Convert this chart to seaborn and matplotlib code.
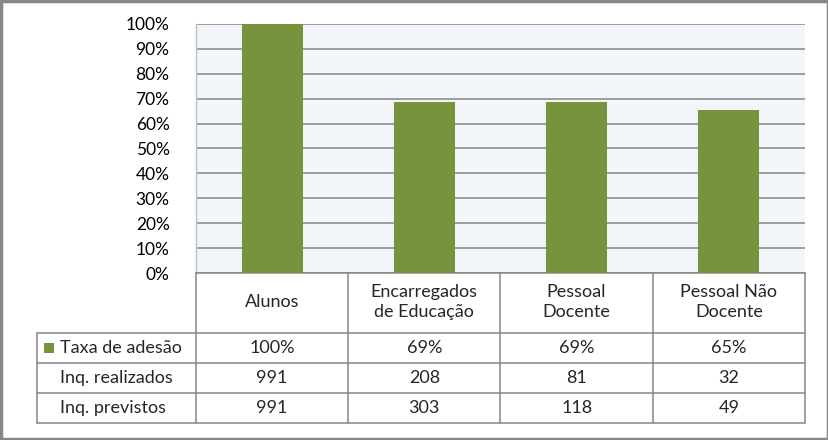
import matplotlib
matplotlib.use("Agg")
import matplotlib.pyplot as plt
import matplotlib.transforms as mtransforms
from matplotlib.patches import Rectangle
import seaborn as sns
import pandas as pd

categories = ["Alunos", "Encarregados\nde Educação", "Pessoal\nDocente", "Pessoal Não\nDocente"]
taxa_labels = ["100%", "69%", "69%", "65%"]
taxa = [1.00, 0.686, 0.686, 0.653]
realizados = [991, 208, 81, 32]
previstos = [991, 303, 118, 49]
row_names = ["Taxa de adesão", "Inq. realizados", "Inq. previstos"]
yticks = [0, 0.1, 0.2, 0.3, 0.4, 0.5, 0.6, 0.7, 0.8, 0.9, 1.0]

sns.set_style("white")
plt.rcParams["font.family"] = ["Lato", "DejaVu Sans"]

W, H = 829, 440
fig = plt.figure(figsize=(W / 100, H / 100), dpi=100)
fig.patch.set_facecolor("white")

def fx(px):
    return px / W

def fy(py):
    return 1 - py / H

left, right, top, bottom = 196, 805, 24, 273
ax = fig.add_axes([fx(left), fy(bottom), fx(right - left), fy(top) - fy(bottom)])

df = pd.DataFrame({"cat": categories, "val": taxa})
green = "#77933C"
sns.barplot(data=df, x="cat", y="val", color=green, width=0.4, saturation=1,
            linewidth=0, ax=ax, zorder=3)
ax.set_xlim(-0.5, 3.5)
ax.set_ylim(0, 1.0)
ax.set_facecolor("#F2F5FA")
ax.set_yticks(yticks)
ax.set_yticklabels([f"{int(round(v * 100))}%" for v in yticks], fontsize=12.5, color="#000000")
ax.tick_params(axis="y", length=0, pad=19)
ax.set_xticks([])
ax.set_xlabel("")
ax.set_ylabel("")
ax.grid(axis="y", color="#868686", linewidth=1.1, zorder=1)
ax.set_axisbelow(True)
for s in ["top", "right"]:
    ax.spines[s].set_visible(False)
ax.spines["left"].set_color("#BFBFBF")
ax.spines["left"].set_linewidth(1)
ax.spines["bottom"].set_color("#868686")
ax.spines["bottom"].set_linewidth(1.1)

# Data table drawn below axis, aligned to category positions
tr = mtransforms.blended_transform_factory(ax.transData, fig.transFigure)
lc = "#868686"
lw = 1.1
row_y = [333, 363, 393, 423]
for b in [-0.5, 0.5, 1.5, 2.5, 3.5]:
    fig.add_artist(plt.Line2D([b, b], [fy(273), fy(423)], transform=tr, color=lc, lw=lw))
fig.add_artist(plt.Line2D([fx(37), fx(37)], [fy(333), fy(423)], transform=fig.transFigure, color=lc, lw=lw))
for ry in row_y:
    fig.add_artist(plt.Line2D([fx(37), fx(805)], [fy(ry), fy(ry)], transform=fig.transFigure, color=lc, lw=lw))

fs = 13
for i, c in enumerate(categories):
    fig.text(i, fy(302), c, transform=tr, ha="center", va="center", fontsize=fs,
             linespacing=1.35)

rows = [taxa_labels, [str(v) for v in realizados], [str(v) for v in previstos]]
for r, vals in enumerate(rows):
    cy = fy((row_y[r] + row_y[r + 1]) / 2)
    for i, v in enumerate(vals):
        fig.text(i, cy, v, transform=tr, ha="center", va="center", fontsize=fs)
    fig.text(fx(60), cy, row_names[r], ha="left", va="center", fontsize=fs)

# legend key
fig.add_artist(Rectangle((fx(44), fy(353)), fx(10), fy(343) - fy(353),
                         transform=fig.transFigure, facecolor=green, edgecolor="none"))

# outer frame
fig.add_artist(Rectangle((0.0015, 0.003), 0.997, 0.994, transform=fig.transFigure,
                         fill=False, edgecolor="#878787", linewidth=2.5))

fig.savefig("out.png", dpi=100, facecolor="white")
